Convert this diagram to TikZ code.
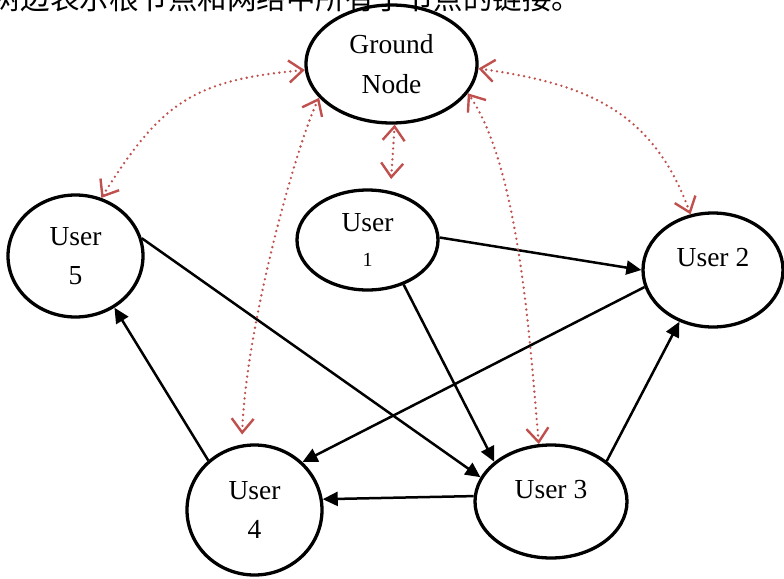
\documentclass[tikz,border=0pt]{standalone}
\usepackage{fontspec}
\setmainfont{Liberation Serif}
\newfontfamily\cjk{Noto Sans CJK SC}
\usetikzlibrary{arrows.meta,shapes.geometric}
\definecolor{linkred}{HTML}{C0504D}
\begin{document}
\begin{tikzpicture}[x=1pt,y=1pt,
  nodeell/.style={ellipse, draw=black, line width=3.3pt, inner sep=0pt, align=center, font=\fontsize{27.5}{39.5}\selectfont},
  oneline/.style={text height=18pt, text depth=25pt},
  blink/.style={draw=black, line width=2.5pt, -{Triangle[length=15pt,width=14pt]}},
  rtip/.tip={Straight Barb[length=14pt,width=22pt,line width=2.4pt]},
  rlink/.style={draw=linkred, line width=2.6pt, dash pattern=on 0pt off 5.5pt, line cap=round, rtip-rtip}
]
\fill[white] (0,0) rectangle (784,-578);
\useasboundingbox (0,0) rectangle (784,-578);

\node[anchor=base west, inner sep=0pt, font=\cjk\fontsize{29.5}{30}\selectfont] (cap) at (-9,-10) {树边表示根节点和网络中所有子节点的链接。};

\node[nodeell, minimum width=171pt, minimum height=118pt] (g) at (391.5,-64) {Ground\\Node};
\node[nodeell, minimum width=135pt, minimum height=122pt] (u5) at (75.5,-256) {User\\5};
\node[nodeell, minimum width=141pt, minimum height=100pt] (u1) at (367.5,-240) {User\\[-5pt]{\fontsize{20}{22}\selectfont 1}};
\node[nodeell, oneline, minimum width=140pt, minimum height=114pt] (u2) at (713,-270) {User 2};
\node[nodeell, oneline, minimum width=152pt, minimum height=113pt] (u3) at (551,-501.5) {User 3};
\node[nodeell, minimum width=135pt, minimum height=130pt] (u4) at (254.5,-510) {User\\4};

\draw[blink] (u1.2) -- (u2.180);
\draw[blink] (u1.-51) -- (u3.145);
\draw[blink] (u5.15) -- (u3.161);
\draw[blink] (u2.194) -- (u4.45);
\draw[blink] (u3.36) -- (u2.-123);
\draw[blink] (u3.176) -- (u4.9);
\draw[blink] (u4.133) -- (u5.-53);

\draw[rlink] (u5.66) .. controls +(58:112) and +(185:112) .. (g.184);
\draw[rlink, shorten <=10pt] (u4.101) .. controls +(88:120) and +(244:50) .. (g.205);
\draw[rlink, shorten <=12pt] (u1.65) -- (g.-87);
\draw[rlink] (u3.102) .. controls +(95:100) and +(-55:90) .. (g.-21);
\draw[rlink] (u2.112) .. controls +(110:110) and +(-8:110) .. (g.-3);
\end{tikzpicture}
\end{document}
